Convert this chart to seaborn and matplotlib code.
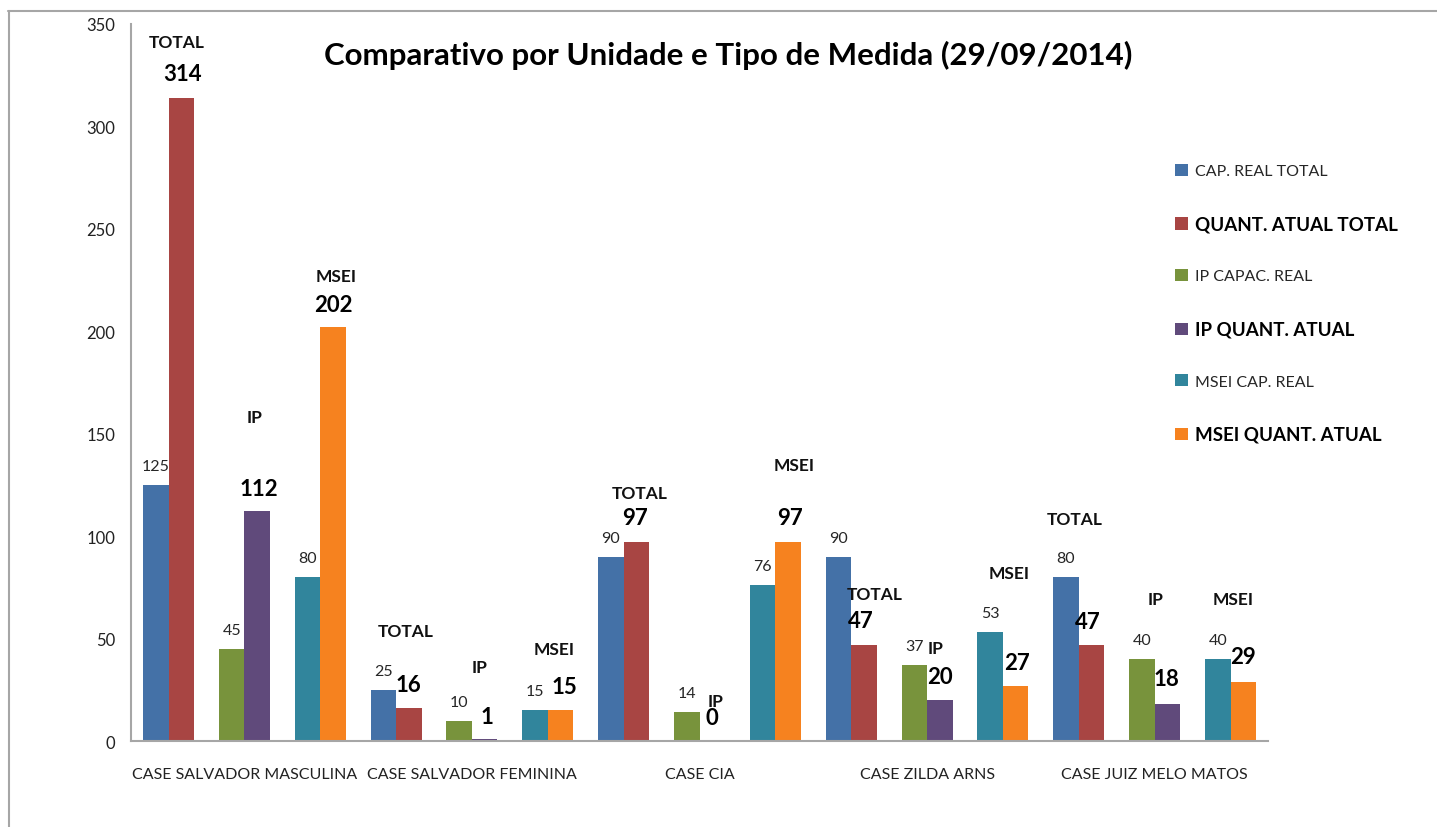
import matplotlib
matplotlib.use("Agg")
import matplotlib.pyplot as plt
from matplotlib.patches import Patch
from matplotlib.lines import Line2D
import seaborn as sns
import pandas as pd

# ---------------- data ----------------
units = ["CASE SALVADOR MASCULINA", "CASE SALVADOR FEMININA", "CASE CIA",
         "CASE ZILDA ARNS", "CASE JUIZ MELO MATOS"]
measures = ["TOTAL", "IP", "MSEI"]
series_names = ["CAP. REAL TOTAL", "QUANT. ATUAL TOTAL", "IP CAPAC. REAL",
                "IP QUANT. ATUAL", "MSEI CAP. REAL", "MSEI QUANT. ATUAL"]
cap_total = [125, 25, 90, 90, 80]
quant_total = [314, 16, 97, 47, 47]
ip_cap = [45, 10, 14, 37, 40]
ip_quant = [112, 1, 0, 20, 18]
msei_cap = [80, 15, 76, 53, 40]
msei_quant = [202, 15, 97, 27, 29]
y_ticks = [0, 50, 100, 150, 200, 250, 300, 350]

# ---------------- styles ----------------
colors = ["#4471A7", "#A84543", "#78933C", "#604A7B", "#31859C", "#F6821F"]
# label offsets (pixels) relative to the top centre of the "quant" bar
quant_off = [(1, 24), (2, 23), (0, 23), (0, 24), (2, 22), (4, 24), (-1, 25), (0, 24),
             (2, 25), (-3, 24), (0, 24), (1, 23), (-4, 23), (-1, 26), (0, 25)]
group_off = [(-5, 56), (-3, 94), (3, 51), (-3, 77), (-5, 72), (-6, 61), (3, 49), (3, 40),
             (6, 77), (11, 51), (-4, 52), (-7, 113), (-17, 126), (-12, 105), (-10, 83)]

sns.set_style("white")
plt.rcParams["font.family"] = ["Lato", "DejaVu Sans"]

# ---------------- long table ----------------
caps = [cap_total, ip_cap, msei_cap]
quants = [quant_total, ip_quant, msei_quant]
rows = []
slot = 0
for u in range(len(units)):
    for m in range(len(measures)):
        rows.append(dict(slot=slot, unit=units[u], measure=measures[m], role="cap", value=caps[m][u]))
        rows.append(dict(slot=slot, unit=units[u], measure=measures[m], role="quant", value=quants[m][u]))
        slot += 1
df = pd.DataFrame(rows)
n_slots = slot

fig = plt.figure(figsize=(14.37, 8.28), dpi=100)
ax = fig.add_axes([0.0909, 0.10386, 0.7918, 0.8662])

sns.barplot(data=df, x="slot", y="value", hue="role", hue_order=["cap", "quant"],
            order=list(range(n_slots)), width=0.672, linewidth=0, ax=ax,
            legend=False, errorbar=None)

cap_bars = ax.containers[0]
quant_bars = ax.containers[1]
for i in range(n_slots):
    m = i % 3
    cap_bars[i].set_facecolor(colors[2 * m])
    quant_bars[i].set_facecolor(colors[2 * m + 1])
    cap_bars[i].set_edgecolor("none")
    quant_bars[i].set_edgecolor("none")

# labels
for i in range(n_slots):
    cb = cap_bars[i]
    qb = quant_bars[i]
    cx = cb.get_x() + cb.get_width() / 2
    qx = qb.get_x() + qb.get_width() / 2
    ax.annotate(f"{int(cb.get_height())}", (cx, cb.get_height()), xytext=(0, 19),
                textcoords="offset pixels", ha="center", va="center",
                fontsize=11.5, color="#262626")
    dx, dy = quant_off[i]
    ax.annotate(f"{int(qb.get_height())}", (qx, qb.get_height()), xytext=(dx, dy),
                textcoords="offset pixels", ha="center", va="center",
                fontsize=16, fontweight="bold", color="black")
    gx, gy = group_off[i]
    ax.annotate(measures[i % 3], (qx, qb.get_height()), xytext=(gx, gy),
                textcoords="offset pixels", ha="center", va="center",
                fontsize=12.5, fontweight="bold", color="#111111")

ax.set_xlim(-0.5, n_slots - 0.5)
ax.set_ylim(0, 350)
ax.set_yticks(y_ticks)
ax.set_yticklabels([str(t) for t in y_ticks])
ax.set_xticks([1 + 3 * u for u in range(len(units))])
ax.set_xticklabels(units)
ax.tick_params(axis="y", length=0, pad=11, labelsize=12, labelcolor="#222222")
ax.tick_params(axis="x", length=0, pad=19, labelsize=11.5, labelcolor="#222222")
ax.set_xlabel("")
ax.set_ylabel("")
for s in ["top", "right"]:
    ax.spines[s].set_visible(False)
for s in ["left", "bottom"]:
    ax.spines[s].set_color("#A6A6A6")
    ax.spines[s].set_linewidth(1.5)

fig.text(0.5066, 0.9336, "Comparativo por Unidade e Tipo de Medida (29/09/2014)",
         ha="center", va="center", fontsize=22.5, fontweight="bold", color="black")

handles = [Patch(facecolor=c, edgecolor="none") for c in colors]
leg = fig.legend(handles, series_names, loc="upper left", bbox_to_anchor=(0.808, 0.8185),
                 frameon=False, fontsize=11.5, labelspacing=2.3, handlelength=0.8,
                 handleheight=0.8, handletextpad=0.4)
for j, t in enumerate(leg.get_texts()):
    if j % 2 == 1:
        t.set_fontsize(13.5)
        t.set_fontweight("bold")
        t.set_color("black")
    else:
        t.set_color("#262626")

# outer frame (left and top edges visible)
fig.add_artist(Line2D([8.5 / 1437, 8.5 / 1437], [0, 1 - 12 / 828], transform=fig.transFigure,
                      color="#A6A6A6", lw=1.5))
fig.add_artist(Line2D([8 / 1437, 1], [1 - 12 / 828, 1 - 12 / 828], transform=fig.transFigure,
                      color="#A6A6A6", lw=1.5))

fig.savefig("out.png", dpi=100)
